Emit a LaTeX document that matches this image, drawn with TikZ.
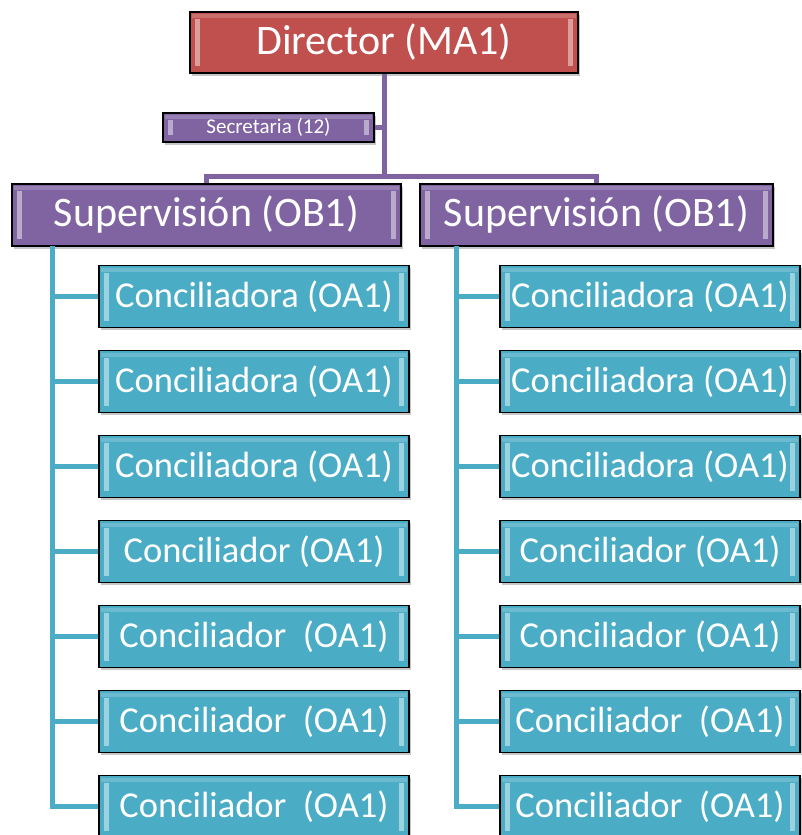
\documentclass[tikz,border=0pt]{standalone}
\usepackage{fontspec}
\setmainfont{Carlito}
\usetikzlibrary{shadows}
\definecolor{cred}{HTML}{C0504D}
\definecolor{cpur}{HTML}{8064A2}
\definecolor{cteal}{HTML}{4BACC6}
\tikzset{
  bevel/.style={path picture={
    \fill[white,opacity=.45] ([xshift=5pt,yshift=7pt]path picture bounding box.south west) rectangle ([xshift=10pt,yshift=-7pt]path picture bounding box.north west);
    \fill[white,opacity=.45] ([xshift=-10pt,yshift=7pt]path picture bounding box.south east) rectangle ([xshift=-5pt,yshift=-7pt]path picture bounding box.north east);
    \fill[white,opacity=.18] ([xshift=2pt,yshift=-2pt]path picture bounding box.north west) rectangle ([xshift=-2pt,yshift=-6pt]path picture bounding box.north east);
  }},
  orgbox/.style={draw=black, line width=1.3pt, rectangle, inner sep=0pt, text=white, bevel,
    drop shadow={opacity=.45, shadow xshift=2pt, shadow yshift=-2.5pt}},
  dirbox/.style={orgbox, fill=cred, minimum width=388pt, minimum height=61pt, font=\fontsize{42}{46}\selectfont},
  secbox/.style={orgbox, fill=cpur, minimum width=211pt, minimum height=29pt, font=\fontsize{21}{24}\selectfont},
  supbox/.style={orgbox, fill=cpur, minimum height=62pt, font=\fontsize{42}{46}\selectfont},
  conbox/.style={orgbox, fill=cteal, minimum height=62pt, font=\fontsize{36.5}{40}\selectfont},
  pconn/.style={draw=cpur, line width=5pt},
  tconn/.style={draw=cteal, line width=5pt},
}
\begin{document}
\begin{tikzpicture}[x=1pt,y=-1pt]
\useasboundingbox (0,0) rectangle (802,835);
% connectors first
\coordinate (bar) at (384,176);
\coordinate (lTop) at (52,246);
\coordinate (rTop) at (456,246);
\node[dirbox] (dir) at (384,42.5) {Director (MA1)};
\node[secbox] (sec) at (268.5,127.5) {Secretaria (12)};
\node[supbox, minimum width=389pt] (supL) at (206.5,215) {Supervisión (OB1)};
\node[supbox, minimum width=353pt] (supR) at (596.5,215) {Supervisión (OB1)};
\begin{scope}[on background layer/.style={}]
\end{scope}
% teal nodes
\foreach \i/\t/\u in {1/{Conciliadora (OA1)}/{Conciliadora (OA1)},
                      2/{Conciliadora (OA1)}/{Conciliadora (OA1)},
                      3/{Conciliadora (OA1)}/{Conciliadora (OA1)},
                      4/{Conciliador (OA1)}/{Conciliador (OA1)},
                      5/{Conciliador\ \ (OA1)}/{Conciliador (OA1)},
                      6/{Conciliador\ \ (OA1)}/{Conciliador\ \ (OA1)},
                      7/{Conciliador\ \ (OA1)}/{Conciliador\ \ (OA1)}}{
  \node[conbox, minimum width=310pt] (cL\i) at (254,{296.5+85*(\i-1)}) {\t};
  \node[conbox, minimum width=300pt] (cR\i) at (650,{296.5+85*(\i-1)}) {\u};
}
% connectors
\draw[pconn] (dir.south) -- (bar);
\draw[pconn] (supL.north) |- (bar) -| (supR.north);
\draw[pconn] (sec.east) -- (sec.east -| dir.south);
\draw[tconn] (lTop) |- (cL7.west);
\draw[tconn] (rTop) |- (cR7.west);
\foreach \i in {1,...,6}{
  \draw[tconn] (lTop |- cL\i.west) -- (cL\i.west);
  \draw[tconn] (rTop |- cR\i.west) -- (cR\i.west);
}
\end{tikzpicture}
\end{document}
